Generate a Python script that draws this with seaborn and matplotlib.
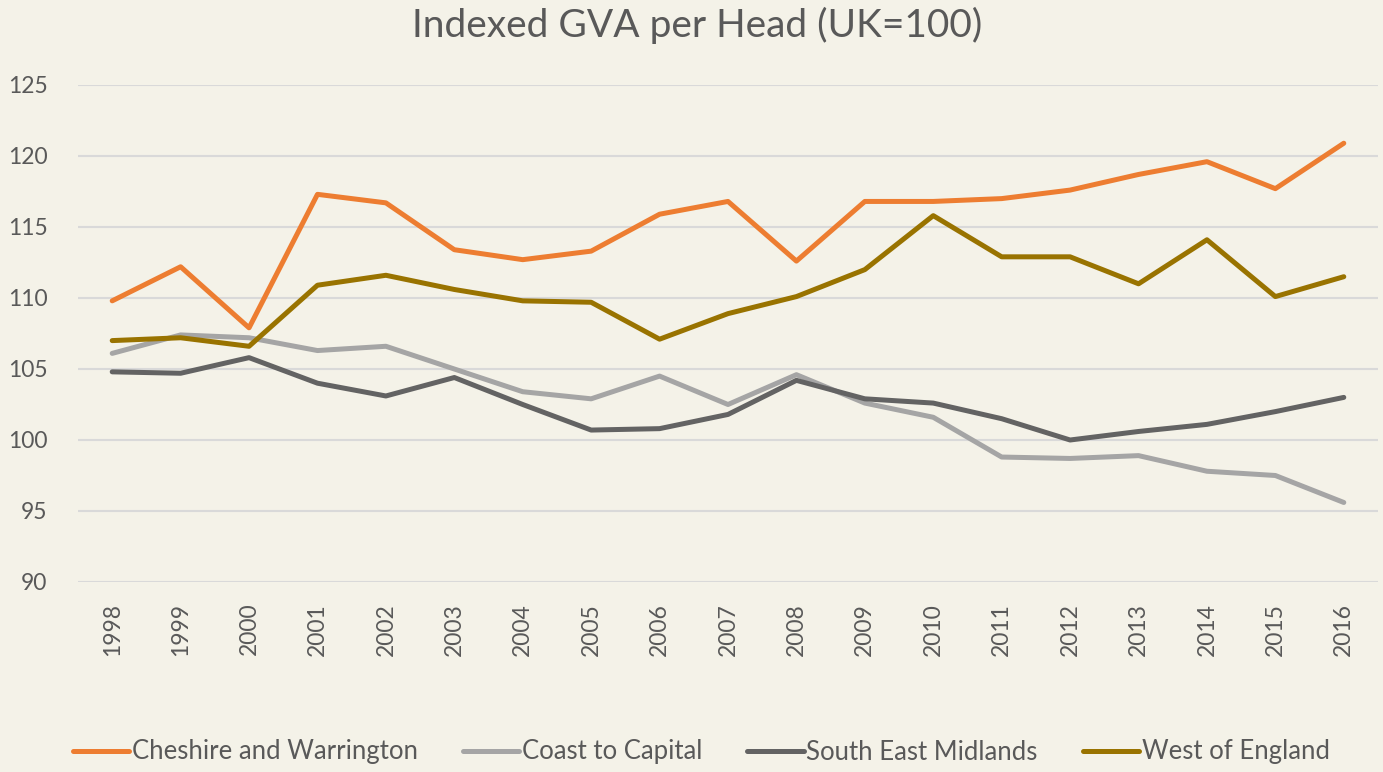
import matplotlib
matplotlib.use("Agg")
import matplotlib.pyplot as plt
import pandas as pd
import seaborn as sns

# Indexed GVA per head (UK=100)
years = list(range(1998, 2017))
cheshire = [109.8, 112.2, 107.9, 117.3, 116.7, 113.4, 112.7, 113.3, 115.9, 116.8,
            112.6, 116.8, 116.8, 117.0, 117.6, 118.7, 119.6, 117.7, 120.9]
coast = [106.1, 107.4, 107.2, 106.3, 106.6, 105.0, 103.4, 102.9, 104.5, 102.5,
         104.6, 102.6, 101.6, 98.8, 98.7, 98.9, 97.8, 97.5, 95.6]
se_midlands = [104.8, 104.7, 105.8, 104.0, 103.1, 104.4, 102.5, 100.7, 100.8, 101.8,
               104.2, 102.9, 102.6, 101.5, 100.0, 100.6, 101.1, 102.0, 103.0]
west_england = [107.0, 107.2, 106.6, 110.9, 111.6, 110.6, 109.8, 109.7, 107.1, 108.9,
                110.1, 112.0, 115.8, 112.9, 112.9, 111.0, 114.1, 110.1, 111.5]

series_names = ["Cheshire and Warrington", "Coast to Capital", "South East Midlands", "West of England"]
series_values = [cheshire, coast, se_midlands, west_england]
colors = ["#ED7D31", "#A5A5A5", "#636363", "#997300"]
y_ticks = [90, 95, 100, 105, 110, 115, 120, 125]

BG = "#F4F2E8"
TEXT = "#595959"

sns.set_theme(style="white")
plt.rcParams["font.family"] = ["Lato", "DejaVu Sans"]

df = pd.concat([pd.DataFrame({"year": years, "value": vals, "region": name})
                for name, vals in zip(series_names, series_values)], ignore_index=True)

fig = plt.figure(figsize=(13.83, 7.72), dpi=100, facecolor=BG)
ax = fig.add_axes([78 / 1383, 1 - 582 / 772, 1300 / 1383, 497 / 772])
ax.set_facecolor(BG)

sns.lineplot(data=df, x="year", y="value", hue="region", hue_order=series_names,
             palette=colors, linewidth=3.6, ax=ax, legend=True)
for line in ax.lines:
    line.set_solid_capstyle("round")

ax.set_xlim(1997.5, 2016.5)
ax.set_ylim(90, 125)
ax.set_yticks(y_ticks)
ax.set_xticks(years)
ax.set_xticklabels([str(y) for y in years], rotation=90)
ax.grid(axis="y", color="#D9D9D9", linewidth=1.5)
ax.set_axisbelow(True)
for s in ax.spines.values():
    s.set_visible(False)
ax.tick_params(axis="y", length=0, pad=22, labelsize=16.5, labelcolor=TEXT)
ax.tick_params(axis="x", length=0, pad=15, labelsize=16.5, labelcolor=TEXT)
ax.set_xlabel("")
ax.set_ylabel("")

fig.text(0.504, 1 - 25 / 772, "Indexed GVA per Head (UK=100)", ha="center", va="center",
         fontsize=28, color=TEXT)

handles, labels = ax.get_legend_handles_labels()
ax.get_legend().remove()
leg = fig.legend(handles, labels, loc="center", bbox_to_anchor=(0.507, 1 - 752 / 772), ncol=4,
                 frameon=False, fontsize=18.5, handlelength=2.2, handletextpad=0.1,
                 columnspacing=1.75, labelcolor=TEXT)

fig.savefig("out.png", dpi=100, facecolor=BG)
